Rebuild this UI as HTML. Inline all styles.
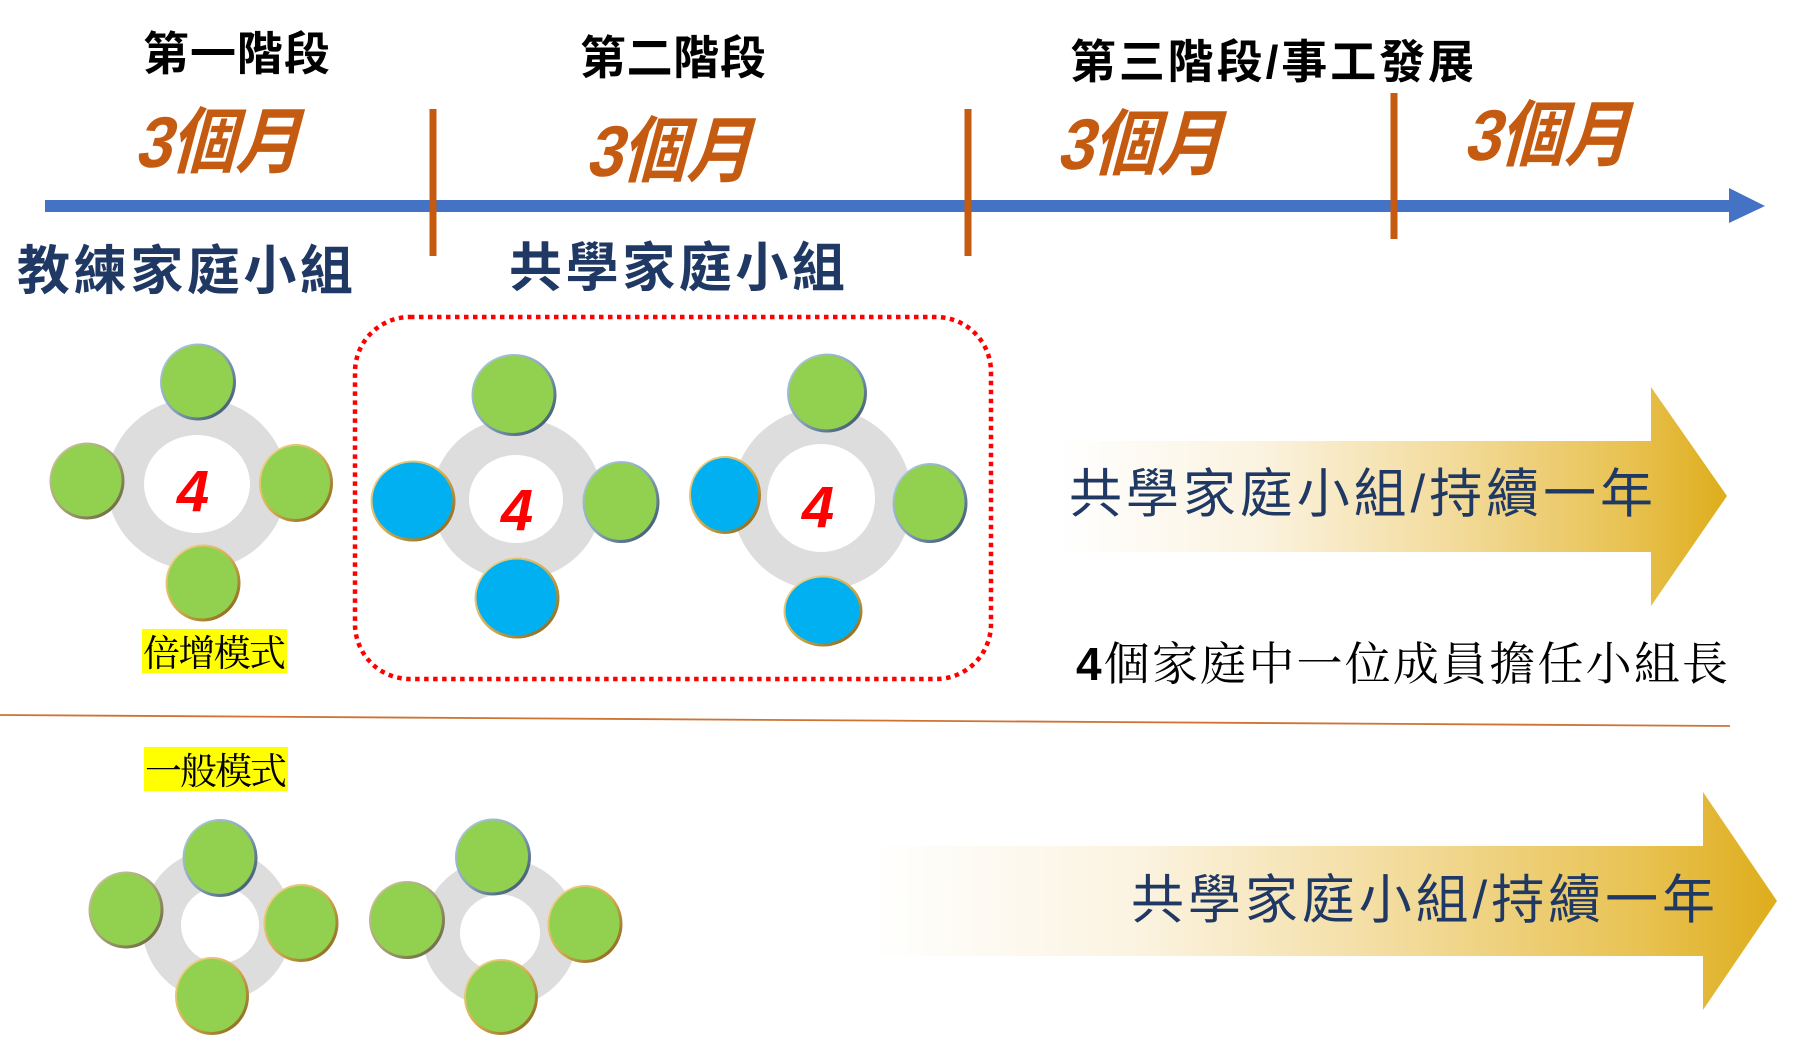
<!DOCTYPE html>
<html>
<head>
<meta charset="utf-8">
<style>
  html, body { margin: 0; padding: 0; background: #ffffff; }
  body { width: 1812px; height: 1052px; overflow: hidden; }
  svg { display: block; }
  .hd { font-family: "Liberation Sans", "Noto Sans CJK TC", sans-serif; font-weight: bold; }
  .sans { font-family: "Liberation Sans", "Noto Sans CJK TC", sans-serif; }
  .serif { font-family: "Liberation Serif", "Noto Serif CJK SC", serif; }
</style>
</head>
<body>
<svg width="1812" height="1052" viewBox="0 0 1812 1052" xmlns="http://www.w3.org/2000/svg">
  <defs>
    <linearGradient id="rimBlue" x1="0" y1="0" x2="1" y2="1">
      <stop offset="0" stop-color="#B4CEE2"/>
      <stop offset="0.5" stop-color="#8BA7BE"/>
      <stop offset="1" stop-color="#2C475C"/>
    </linearGradient>
    <linearGradient id="rimGold" x1="0" y1="0" x2="1" y2="1">
      <stop offset="0" stop-color="#F6DC96"/>
      <stop offset="0.5" stop-color="#D4AE52"/>
      <stop offset="1" stop-color="#7A5A12"/>
    </linearGradient>
    <linearGradient id="rimOlive" x1="0" y1="0" x2="1" y2="1">
      <stop offset="0" stop-color="#CFCBA6"/>
      <stop offset="0.5" stop-color="#A8A478"/>
      <stop offset="1" stop-color="#5E5C34"/>
    </linearGradient>
    <linearGradient id="arrowGrad1" gradientUnits="userSpaceOnUse" x1="1060" y1="0" x2="1727" y2="0">
      <stop offset="0" stop-color="#FFFFFF"/>
      <stop offset="0.3" stop-color="#FBF3E0"/>
      <stop offset="0.6" stop-color="#F2DA98"/>
      <stop offset="0.85" stop-color="#E8C252"/>
      <stop offset="1" stop-color="#DEAD1C"/>
    </linearGradient>
    <linearGradient id="arrowGrad2" gradientUnits="userSpaceOnUse" x1="871" y1="0" x2="1777" y2="0">
      <stop offset="0" stop-color="#FFFFFF"/>
      <stop offset="0.3" stop-color="#FBF3E0"/>
      <stop offset="0.6" stop-color="#F2DA98"/>
      <stop offset="0.85" stop-color="#E8C252"/>
      <stop offset="1" stop-color="#DEAD1C"/>
    </linearGradient>
  </defs>

  <!-- Timeline -->
  <rect x="45" y="200" width="1686" height="12" fill="#4472C4"/>
  <polygon points="1729,188 1765,206 1729,223" fill="#4472C4"/>
  <rect x="429.5" y="109" width="7" height="147" fill="#C55A11"/>
  <rect x="964.5" y="109" width="7" height="147" fill="#C55A11"/>
  <rect x="1390.5" y="93" width="7" height="146" fill="#C55A11"/>

  <!-- Stage headings -->
  <text class="hd" x="143" y="70" font-size="46" fill="#000" textLength="187" lengthAdjust="spacing">第一階段</text>
  <text class="hd" x="580" y="74" font-size="46" fill="#000" textLength="186" lengthAdjust="spacing">第二階段</text>
  <text class="hd" x="1070" y="78" font-size="46" fill="#000" textLength="404" lengthAdjust="spacing">第三階段/事工發展</text>

  <!-- 3個月 labels -->
  <g transform="translate(134,167) skewX(-15)">
    <text class="hd" x="0" y="0" font-size="72" fill="#C55A11" textLength="166" lengthAdjust="spacingAndGlyphs">3個月</text>
  </g>
  <g transform="translate(585,176) skewX(-15)">
    <text class="hd" x="0" y="0" font-size="72" fill="#C55A11" textLength="166" lengthAdjust="spacingAndGlyphs">3個月</text>
  </g>
  <g transform="translate(1056,169) skewX(-15)">
    <text class="hd" x="0" y="0" font-size="72" fill="#C55A11" textLength="166" lengthAdjust="spacingAndGlyphs">3個月</text>
  </g>
  <g transform="translate(1463,160) skewX(-15)">
    <text class="hd" x="0" y="0" font-size="72" fill="#C55A11" textLength="166" lengthAdjust="spacingAndGlyphs">3個月</text>
  </g>

  <!-- Group titles -->
  <text class="hd" x="17" y="289" font-size="53" fill="#203864" textLength="336" lengthAdjust="spacing">教練家庭小組</text>
  <text class="hd" x="509" y="286" font-size="53" fill="#203864" textLength="336" lengthAdjust="spacing">共學家庭小組</text>

  <!-- Dotted red box -->
  <rect x="355" y="317" width="636" height="362" rx="55" ry="55" fill="none" stroke="#FF0000" stroke-width="4.5" stroke-dasharray="4.5 4.5"/>

  <!-- Ring 1 -->
  <ellipse cx="197" cy="484" rx="90" ry="86" fill="#DDDDDD"/>
  <ellipse cx="197" cy="484" rx="53" ry="49" fill="#FFFFFF"/>
  <ellipse cx="198" cy="382" rx="38" ry="38.5" fill="url(#rimBlue)"/><ellipse cx="197.5" cy="381.5" rx="35.5" ry="36" fill="#92D050"/>
  <ellipse cx="87" cy="481" rx="37.5" ry="38.5" fill="url(#rimOlive)"/><ellipse cx="86.5" cy="480.5" rx="35" ry="36" fill="#92D050"/>
  <ellipse cx="296" cy="483" rx="37" ry="39" fill="url(#rimGold)"/><ellipse cx="295.5" cy="482.5" rx="34.5" ry="36.5" fill="#92D050"/>
  <ellipse cx="203" cy="583" rx="37.5" ry="38.5" fill="url(#rimGold)"/><ellipse cx="202.5" cy="582.5" rx="35" ry="36" fill="#92D050"/>
  <text class="sans" x="193" y="511" font-size="58" font-weight="bold" font-style="italic" fill="#FF0000" text-anchor="middle">4</text>

  <!-- Ring 2 -->
  <ellipse cx="517" cy="499" rx="85" ry="81" fill="#DDDDDD"/>
  <ellipse cx="516" cy="499" rx="47" ry="44" fill="#FFFFFF"/>
  <ellipse cx="514" cy="395" rx="42.5" ry="41" fill="url(#rimBlue)"/><ellipse cx="513.5" cy="394.5" rx="40" ry="38.5" fill="#92D050"/>
  <ellipse cx="413" cy="501" rx="42.5" ry="40.5" fill="url(#rimGold)"/><ellipse cx="412.5" cy="500.5" rx="40" ry="38" fill="#00B0F0"/>
  <ellipse cx="621" cy="502" rx="38.5" ry="41" fill="url(#rimBlue)"/><ellipse cx="620.5" cy="501.5" rx="36" ry="38.5" fill="#92D050"/>
  <ellipse cx="517" cy="598" rx="42.5" ry="40.5" fill="url(#rimGold)"/><ellipse cx="516.5" cy="597.5" rx="40" ry="38" fill="#00B0F0"/>
  <text class="sans" x="517" y="530" font-size="58" font-weight="bold" font-style="italic" fill="#FF0000" text-anchor="middle">4</text>

  <!-- Ring 3 -->
  <ellipse cx="822" cy="499" rx="90" ry="91" fill="#DDDDDD"/>
  <ellipse cx="821" cy="498" rx="54" ry="54" fill="#FFFFFF"/>
  <ellipse cx="827" cy="393" rx="40" ry="39.5" fill="url(#rimBlue)"/><ellipse cx="826.5" cy="392.5" rx="37.5" ry="37" fill="#92D050"/>
  <ellipse cx="725" cy="495" rx="36" ry="39" fill="url(#rimGold)"/><ellipse cx="724.5" cy="494.5" rx="33.5" ry="36.5" fill="#00B0F0"/>
  <ellipse cx="930" cy="503" rx="37.5" ry="40" fill="url(#rimBlue)"/><ellipse cx="929.5" cy="502.5" rx="35" ry="37.5" fill="#92D050"/>
  <ellipse cx="823" cy="611" rx="39.5" ry="35.5" fill="url(#rimGold)"/><ellipse cx="822.5" cy="610.5" rx="37" ry="33" fill="#00B0F0"/>
  <text class="sans" x="818" y="527" font-size="58" font-weight="bold" font-style="italic" fill="#FF0000" text-anchor="middle">4</text>

  <!-- Yellow label 倍增模式 -->
  <rect x="142" y="629" width="145" height="44" fill="#FFFF00"/>
  <text class="serif" x="143" y="666" font-size="37" fill="#000" textLength="143" lengthAdjust="spacing">倍增模式</text>

  <!-- Arrow 1 -->
  <polygon points="1060,441 1651,441 1651,387 1727,496 1651,606 1651,552 1060,552" fill="url(#arrowGrad1)"/>
  <text class="sans" x="1069" y="512" font-size="53" fill="#203864" textLength="584" lengthAdjust="spacing">共學家庭小組/持續一年</text>

  <!-- Caption -->
  <text class="serif" x="1076" y="680" font-size="46" fill="#000" textLength="652" lengthAdjust="spacing"><tspan class="sans" font-weight="bold">4</tspan>個家庭中一位成員擔任小組長</text>

  <!-- Separator -->
  <line x1="0" y1="715" x2="1730" y2="726" stroke="#C55A11" stroke-width="1.8" stroke-opacity="0.85"/>

  <!-- Yellow label 一般模式 -->
  <rect x="144" y="747" width="144" height="44" fill="#FFFF00"/>
  <text class="serif" x="145" y="784" font-size="37" fill="#000" textLength="142" lengthAdjust="spacing">一般模式</text>

  <!-- Ring A -->
  <ellipse cx="217" cy="925" rx="75" ry="76" fill="#DDDDDD"/>
  <ellipse cx="220" cy="925" rx="39" ry="38" fill="#FFFFFF"/>
  <ellipse cx="220" cy="858" rx="37.5" ry="39" fill="url(#rimBlue)"/><ellipse cx="219.5" cy="857.5" rx="35" ry="36.5" fill="#92D050"/>
  <ellipse cx="126" cy="910" rx="37.5" ry="38.5" fill="url(#rimOlive)"/><ellipse cx="125.5" cy="909.5" rx="35" ry="36" fill="#92D050"/>
  <ellipse cx="301" cy="923" rx="37.5" ry="39" fill="url(#rimGold)"/><ellipse cx="300.5" cy="922.5" rx="35" ry="36.5" fill="#92D050"/>
  <ellipse cx="212" cy="996" rx="37" ry="39" fill="url(#rimGold)"/><ellipse cx="211.5" cy="995.5" rx="34.5" ry="36.5" fill="#92D050"/>

  <!-- Ring B -->
  <ellipse cx="500" cy="933" rx="78" ry="75" fill="#DDDDDD"/>
  <ellipse cx="500" cy="933" rx="40" ry="38.5" fill="#FFFFFF"/>
  <ellipse cx="493" cy="857" rx="38" ry="38.5" fill="url(#rimBlue)"/><ellipse cx="492.5" cy="856.5" rx="35.5" ry="36" fill="#92D050"/>
  <ellipse cx="407" cy="920" rx="38" ry="39" fill="url(#rimOlive)"/><ellipse cx="406.5" cy="919.5" rx="35.5" ry="36.5" fill="#92D050"/>
  <ellipse cx="585" cy="924" rx="37.5" ry="39" fill="url(#rimGold)"/><ellipse cx="584.5" cy="923.5" rx="35" ry="36.5" fill="#92D050"/>
  <ellipse cx="501" cy="997" rx="37" ry="38" fill="url(#rimGold)"/><ellipse cx="500.5" cy="996.5" rx="34.5" ry="35.5" fill="#92D050"/>

  <!-- Arrow 2 -->
  <polygon points="871,846 1703,846 1703,792 1777,901 1703,1010 1703,956 871,956" fill="url(#arrowGrad2)"/>
  <text class="sans" x="1131" y="918" font-size="53" fill="#203864" textLength="584" lengthAdjust="spacing">共學家庭小組/持續一年</text>
</svg>
</body>
</html>
